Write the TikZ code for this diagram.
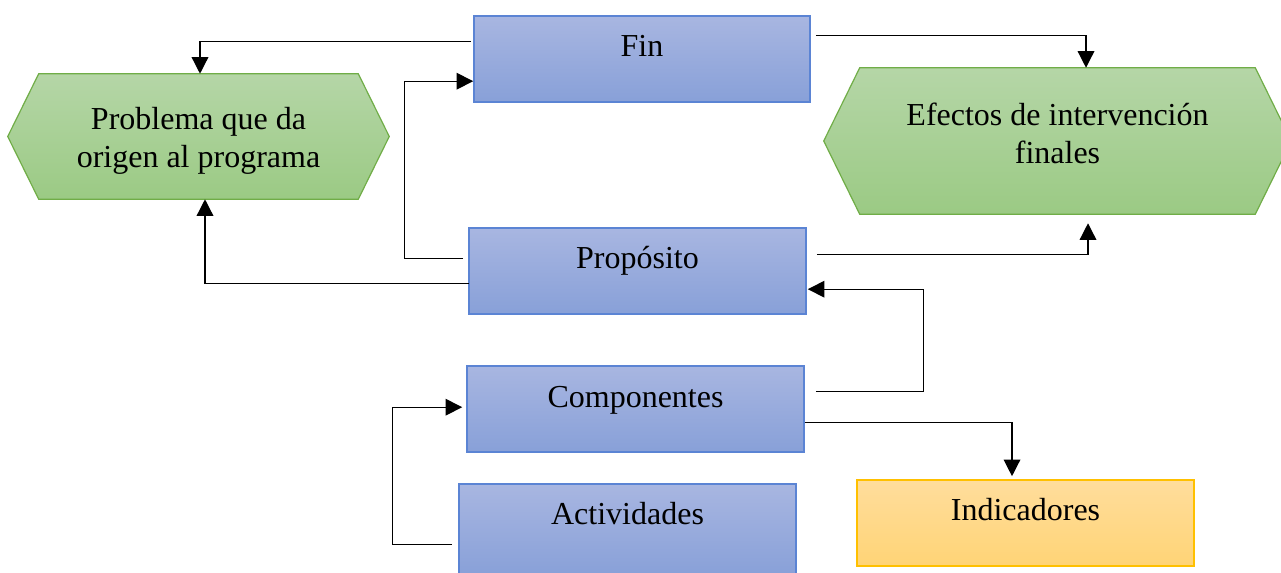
\documentclass[tikz,border=0pt]{standalone}
\usepackage{fontspec}
\setmainfont{Liberation Serif}
\usetikzlibrary{arrows.meta,calc}
\definecolor{bTop}{HTML}{A8B6E1}
\definecolor{bBot}{HTML}{88A0D8}
\definecolor{bBord}{HTML}{5B84D4}
\definecolor{gTop}{HTML}{B5D6A7}
\definecolor{gBot}{HTML}{9BCA84}
\definecolor{gBord}{HTML}{70AD47}
\definecolor{yTop}{HTML}{FFDD9C}
\definecolor{yBot}{HTML}{FFD476}
\definecolor{yBord}{HTML}{FFC000}
\begin{document}
\begin{tikzpicture}[x=0.75pt,y=-0.75pt,
  bluebox/.style={draw=bBord, line width=1.2pt, top color=bTop, bottom color=bBot,
    minimum width=252.75pt, minimum height=64.5pt, inner sep=0pt},
  yelbox/.style={draw=yBord, line width=1.2pt, top color=yTop, bottom color=yBot,
    minimum width=252.75pt, minimum height=64.5pt, inner sep=0pt},
  hexframe/.style={inner sep=0pt},
  greenhex/.style={draw=gBord, line width=0.9pt, top color=gTop, bottom color=gBot},
  lbl/.style={font=\fontsize{24}{28.5}\selectfont, inner sep=0pt, anchor=base},
  lbltwo/.style={font=\fontsize{24}{28.5}\selectfont, inner sep=0pt, align=center, anchor=center},
  conn/.style={draw=black, line width=1pt, -{Triangle[length=12.5pt,width=12.5pt]}}
]
\useasboundingbox (0,0) rectangle (1281,573);

% hexagons
\node[hexframe, minimum width=285.75pt, minimum height=93.75pt] (prob) at (198.5,136.5) {};
\path[greenhex] (prob.west) -- ([xshift=23.25pt]prob.north west) -- ([xshift=-23.25pt]prob.north east)
  -- (prob.east) -- ([xshift=-23.25pt]prob.south east) -- ([xshift=23.25pt]prob.south west) -- cycle;
\node[lbltwo] (probT) at ($(prob)+(0,4.5)$) {Problema que da\\origen al programa};

\node[hexframe, minimum width=350.25pt, minimum height=109.5pt] (ef) at (1057.5,141) {};
\path[greenhex] (ef.west) -- ([xshift=27pt]ef.north west) -- ([xshift=-27pt]ef.north east)
  -- (ef.east) -- ([xshift=-27pt]ef.south east) -- ([xshift=27pt]ef.south west) -- cycle;
\node[lbltwo] (efT) at ($(ef)+(0,-7.5)$) {Efectos de intervención\\finales};

% boxes
\node[bluebox, minimum width=252pt] (fin) at (642,59) {};
\node[bluebox] (prop) at (637.5,271) {};
\node[bluebox] (comp) at (635.5,409) {};
\node[bluebox, minimum height=69pt] (act) at (627.5,530) {};
\node[yelbox] (ind) at (1025.5,523) {};

\node[lbl] (finT) at ($(fin.north)+(0,41)$) {Fin};
\node[lbl] (propT) at ($(prop.north)+(0,41)$) {Propósito};
\node[lbl] (compT) at ($(comp.north)+(0,42)$) {Componentes};
\node[lbl] (actT) at ($(act.north)+(0,41)$) {Actividades};
\node[lbl] (indT) at ($(ind.north)+(0,41)$) {Indicadores};

% connectors
\draw[conn] ($(fin.north west)+(-2,26)$) -| ($(prob.north)+(1.5,0)$);
\draw[conn] ($(prop.north west)+(1,56)$) -| ($(prob.south)+(6.5,0)$);
\draw[conn] ($(prop.north west)+(-5,31)$) -- ++(-59,0) |- ($(fin.north west)+(0,66)$);
\draw[conn] ($(fin.north east)+(5,20)$) -| ($(ef.north)+(28.5,0)$);
\draw[conn] ($(prop.north east)+(10,27)$) -| ($(ef.south)+(30.5,9)$);
\draw[conn] ($(comp.north east)+(11,26)$) -- ++(108,0) |- ($(prop.north east)+(1,62)$);
\draw[conn] ($(comp.north east)+(0,57)$) -| ($(ind.north)+(-13.5,-3)$);
\draw[conn] ($(act.north west)+(-6,61)$) -- ++(-60,0) |- ($(comp.north west)+(-4,42)$);
\end{tikzpicture}
\end{document}
